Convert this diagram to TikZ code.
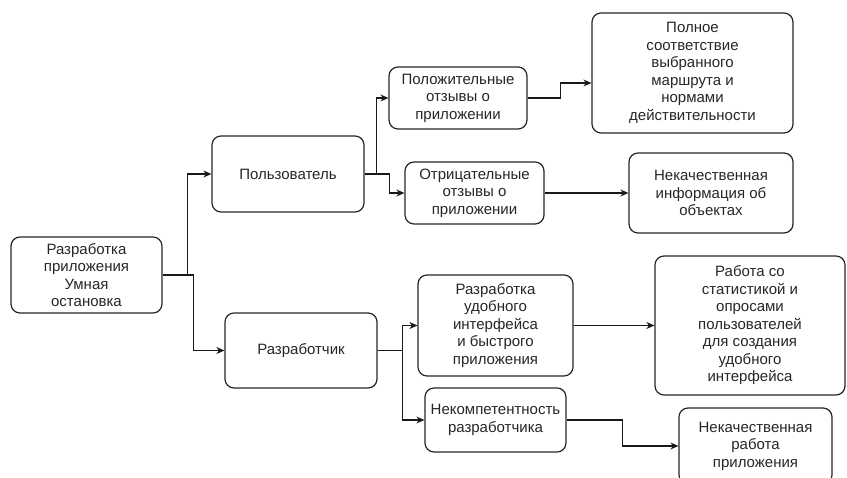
\documentclass[tikz,border=0pt]{standalone}
\usepackage{fontspec}
\setmainfont{Liberation Sans}
\usetikzlibrary{arrows.meta}

\begin{document}
\begin{tikzpicture}[x=1pt, y=-1pt, >={Stealth[length=8pt, width=7pt]}, line width=1.2pt,
  box/.style={draw=black!85, rounded corners=9pt, align=center, inner sep=2pt,
    font=\fontsize{15}{17.5}\selectfont, text=black!85},
  link/.style={->, draw=black!90, line width=1.2pt}]
  \useasboundingbox (0,0) rectangle (847,478);
  % корень
  \node[box, minimum width=151, minimum height=76] (root) at (86.5,275)
    {Разработка\\приложения\\Умная\\остановка};
  % пользователь
  \node[box, minimum width=152, minimum height=76] (user) at (288,174) {Пользователь};
  \node[box, minimum width=138, minimum height=62] (pos) at (458,98)
    {Положительные\\отзывы о\\приложении};
  \node[box, minimum width=139, minimum height=62] (neg) at (474.5,193)
    {Отрицательные\\отзывы о\\приложении};
  \node[box, minimum width=201, minimum height=120] (full) at (692.5,73)
    {Полное\\соответствие\\выбранного\\маршрута и\\нормами\\действительности};
  \node[box, minimum width=164, minimum height=80] (info) at (711,193)
    {Некачественная\\информация об\\объектах};
  % разработчик
  \node[box, minimum width=152, minimum height=75] (dev) at (301,350.5) {Разработчик};
  \node[box, minimum width=155, minimum height=101] (iface) at (495.5,325.5)
    {Разработка\\удобного\\интерфейса\\и быстрого\\приложения};
  \node[box, minimum width=141, minimum height=64] (incomp) at (495.5,420)
    {Некомпетентность\\разработчика};
  \node[box, minimum width=190, minimum height=139] (stats) at (750,325.5)
    {Работа со\\статистикой и\\опросами\\пользователей\\для создания\\удобного\\интерфейса};
  \node[box, minimum width=153, minimum height=76] (badapp) at (755.5,446)
    {Некачественная\\работа\\приложения};
  % связи
  \draw[link] (root.east) -- ++(25,0) |- (user.west);
  \draw[link] (root.east) -- ++(31,0) |- (dev.west);
  \draw[link] (user.east) -- ++(12,0) |- (pos.west);
  \draw[link] (user.east) -- ++(25,0) |- (neg.west);
  \draw[link] (pos.east) -- ++(33,0) |- ([yshift=-10pt]full.west);
  \draw[link] (neg.east) -- (info.west);
  \draw[link] (dev.east) -- ++(25,0) |- (iface.west);
  \draw[link] (dev.east) -- ++(25,0) |- (incomp.west);
  \draw[link] (iface.east) -- (stats.west);
  \draw[link] (incomp.east) -- ++(56,0) |- (badapp.west);
\end{tikzpicture}
\end{document}
